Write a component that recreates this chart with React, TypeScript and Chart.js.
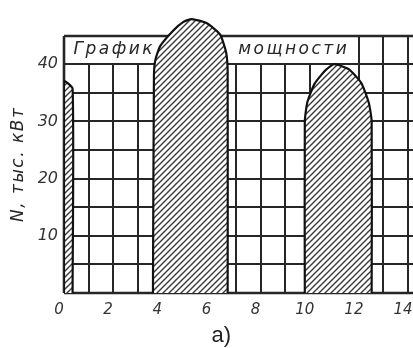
import React, { useEffect, useRef } from "react";
import { Chart, registerables } from "chart.js";

Chart.register(...registerables);

// ---- data (hours, thousand kW) ----
const nightHours = [0, 0, 0.35, 0.35];
const nightPower = [0, 37, 35.7, 0];
const morningHours = [3.62, 3.66, 3.72, 3.92, 4.45, 4.86, 5.2, 5.8, 6.35, 6.6, 6.66, 6.66];
const morningPower = [0, 38, 40.8, 43.2, 45.9, 47.4, 47.9, 47.2, 45.2, 42, 38.5, 0];
const eveningHours = [9.8, 9.8, 9.9, 10.2, 10.65, 11.0, 11.6, 12.1, 12.4, 12.52, 12.52];
const eveningPower = [0, 30, 33.3, 36.6, 39, 40, 39.1, 36.7, 33.3, 30, 0];

const xTicks = [0, 2, 4, 6, 8, 10, 12, 14];
const xTickLabels = ["0", "2", "4", "6", "8", "10", "12", "14"];
const yTicks = [10, 20, 30, 40];
const yTickLabels = ["10", "20", "30", "40"];

const hourMax = 15;
const powerMax = 48.5;
const powerGridTop = 45;
const titleRowBottom = 40;
const titleBoxEnd = 12;
const gridStepX = 1;
const gridStepY = 5;

const titleLeft = "График";
const titleRight = "мощности";
const yTitle = "N, тыс. кВт";
const caption = "а)";

const INK = "#262626";

function makeHatch(): CanvasPattern | string {
  const s = 6;
  const c = document.createElement("canvas");
  c.width = s;
  c.height = s;
  const g = c.getContext("2d");
  if (!g) return "#999";
  g.fillStyle = "#ffffff";
  g.fillRect(0, 0, s, s);
  g.strokeStyle = "#3a3a3a";
  g.lineWidth = 1.4;
  g.beginPath();
  g.moveTo(0, s);
  g.lineTo(s, 0);
  g.moveTo(-1, 1);
  g.lineTo(1, -1);
  g.moveTo(s - 1, s + 1);
  g.lineTo(s + 1, s - 1);
  g.stroke();
  const p = g.createPattern(c, "repeat");
  return p || "#999";
}

const zip = (xs: number[], ys: number[]) => xs.map((x, i) => ({ x, y: ys[i] }));

const gridPlugin = {
  id: "powerGrid",
  beforeDatasetsDraw(chart: any) {
    const { ctx } = chart;
    const x = chart.scales.x;
    const y = chart.scales.y;
    const X = (v: number) => Math.round(x.getPixelForValue(v));
    const Y = (v: number) => Math.round(y.getPixelForValue(v));
    ctx.save();
    ctx.strokeStyle = INK;
    ctx.lineWidth = 2;
    ctx.beginPath();
    for (let v = gridStepY; v < powerGridTop; v += gridStepY) {
      ctx.moveTo(X(0), Y(v));
      ctx.lineTo(X(hourMax), Y(v));
    }
    for (let h = gridStepX; h <= hourMax; h += gridStepX) {
      const top = h >= titleBoxEnd ? powerGridTop : titleRowBottom;
      ctx.moveTo(X(h), Y(0));
      ctx.lineTo(X(h), Y(top));
    }
    ctx.stroke();
    ctx.lineWidth = 2.6;
    ctx.beginPath();
    ctx.moveTo(X(0), Y(0));
    ctx.lineTo(X(hourMax), Y(0));
    ctx.moveTo(X(0), Y(0));
    ctx.lineTo(X(0), Y(powerGridTop));
    ctx.moveTo(X(0), Y(powerGridTop));
    ctx.lineTo(X(hourMax), Y(powerGridTop));
    ctx.stroke();

    // title row text
    ctx.fillStyle = INK;
    ctx.font = 'italic 17px "DejaVu Sans"';
    ctx.textAlign = "center";
    ctx.textBaseline = "middle";
    (ctx as any).letterSpacing = "2.5px";
    ctx.fillText(titleLeft, x.getPixelForValue(2.05), y.getPixelForValue(42.6));
    ctx.fillText(titleRight, x.getPixelForValue(9.35), y.getPixelForValue(42.6));
    ctx.restore();
  },
  afterDraw(chart: any) {
    const { ctx } = chart;
    const x = chart.scales.x;
    const y = chart.scales.y;
    ctx.save();
    ctx.fillStyle = INK;
    ctx.font = 'italic 17px "DejaVu Sans"';
    ctx.textAlign = "center";
    ctx.textBaseline = "middle";
    (ctx as any).letterSpacing = "1.5px";
    ctx.translate(19, (y.getPixelForValue(0) + y.getPixelForValue(powerGridTop)) / 2);
    ctx.rotate(-Math.PI / 2);
    ctx.fillText(yTitle, 0, 0);
    ctx.restore();

    ctx.save();
    ctx.fillStyle = "#222";
    ctx.font = '22px "Liberation Sans"';
    ctx.textAlign = "center";
    ctx.textBaseline = "middle";
    ctx.fillText(caption, x.getPixelForValue(6.4), 336);
    ctx.restore();
  },
};

export default function App() {
  const ref = useRef<HTMLCanvasElement | null>(null);

  useEffect(() => {
    const canvas = ref.current;
    if (!canvas) return;
    const hatch = makeHatch();
    const shape = (xs: number[], ys: number[]) => ({
      data: zip(xs, ys),
      fill: "origin",
      backgroundColor: hatch,
      borderColor: "#111",
      borderWidth: 2.2,
      pointRadius: 0,
      tension: 0.18,
    });
    const chart = new Chart(canvas, {
      type: "line",
      data: {
        datasets: [
          shape(nightHours, nightPower),
          shape(morningHours, morningPower),
          shape(eveningHours, eveningPower),
        ] as any,
      },
      options: {
        animation: false,
        responsive: false,
        devicePixelRatio: 1,
        layout: { padding: { top: 7.4, right: 7.4, left: 0, bottom: 0 } },
        plugins: { legend: { display: false }, tooltip: { enabled: false } },
        scales: {
          x: {
            type: "linear",
            min: 0,
            max: hourMax,
            grid: { display: false, drawTicks: false },
            border: { display: false },
            afterBuildTicks: (s: any) => {
              s.ticks = xTicks.map((v) => ({ value: v }));
            },
            afterFit: (s: any) => {
              s.height = 55;
            },
            ticks: {
              autoSkip: false,
              maxRotation: 0,
              padding: 8,
              labelOffset: -5,
              color: "#333",
              font: { family: "DejaVu Sans", size: 15, style: "italic" },
              callback: (v: any) => {
                const i = xTicks.indexOf(Number(v));
                return i >= 0 ? xTickLabels[i] : "";
              },
            },
          },
          y: {
            type: "linear",
            min: 0,
            max: powerMax,
            grid: { display: false, drawTicks: false },
            border: { display: false },
            afterBuildTicks: (s: any) => {
              s.ticks = yTicks.map((v) => ({ value: v }));
            },
            afterFit: (s: any) => {
              s.width = 64;
            },
            ticks: {
              padding: 6,
              color: "#333",
              font: { family: "DejaVu Sans", size: 16, style: "italic" },
              callback: (v: any) => {
                const i = yTicks.indexOf(Number(v));
                return i >= 0 ? yTickLabels[i] : "";
              },
            },
          },
        },
      },
      plugins: [gridPlugin],
    });
    return () => chart.destroy();
  }, []);

  return (
    <div
      style={{
        position: "absolute",
        left: 0,
        top: 0,
        width: 413,
        height: 348,
        overflow: "hidden",
        background: "#fff",
      }}
    >
      <canvas ref={ref} width={440} height={348} style={{ display: "block", width: 440, height: 348 }} />
    </div>
  );
}
